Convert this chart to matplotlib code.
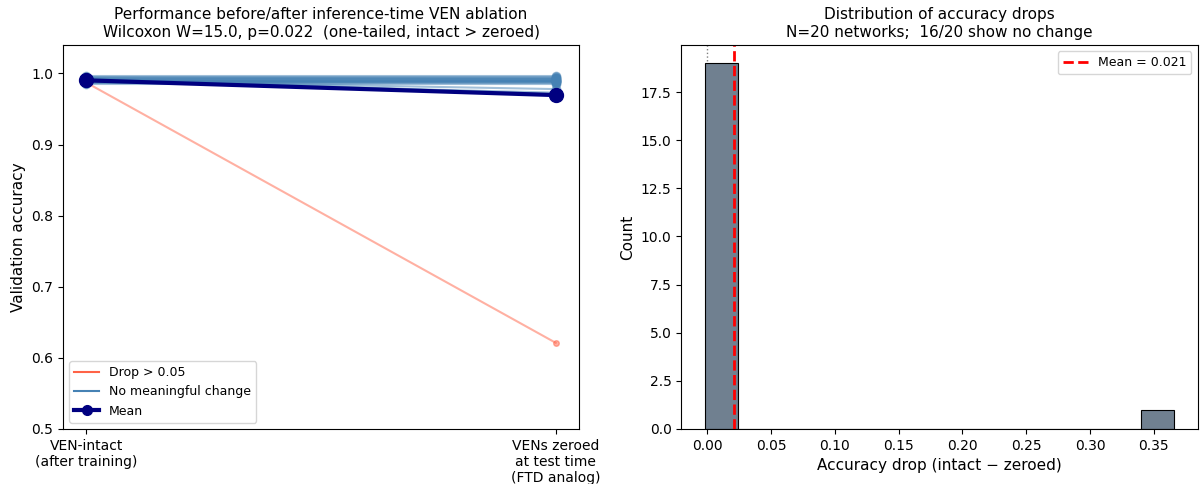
import matplotlib
matplotlib.use("Agg")
import matplotlib.pyplot as plt
from matplotlib.lines import Line2D
import numpy as np

# validation accuracy per network
intact = np.array([0.992, 0.988, 0.995, 0.990, 0.986, 0.993, 0.989, 0.991, 0.994, 0.987,
                   0.990, 0.996, 0.988, 0.992, 0.985, 0.991, 0.993, 0.989, 0.990, 0.987])
drops = np.array([0.0, 0.0, 0.0, 0.0, 0.0, 0.0, 0.0, 0.0, 0.001, -0.002,
                  0.0, 0.0, 0.0, 0.0, 0.0, 0.0, 0.022, 0.016, 0.012, 0.366])
zeroed = intact - drops

labels = ["VEN-intact\n(after training)", "VENs zeroed\nat test time\n(FTD analog)"]
wilcoxon_w = 15.0
p_value = 0.022
n_nochange = 16

fig, (ax1, ax2) = plt.subplots(1, 2, figsize=(12, 4.84), dpi=100)

# left: paired lines
for a, b, d in zip(intact, zeroed, drops):
    if d > 0.05:
        ax1.plot([0, 1], [a, b], color='tomato', alpha=0.5, lw=1.5, marker='o', markersize=4)
    else:
        ax1.plot([0, 1], [a, b], color='steelblue', alpha=0.5, lw=1.5, marker='o', markersize=6)

ax1.plot([0, 1], [intact.mean(), zeroed.mean()], color='navy', lw=3, marker='o', markersize=10, zorder=5)

handles = [Line2D([0], [0], color='tomato', lw=1.5),
           Line2D([0], [0], color='steelblue', lw=1.5),
           Line2D([0], [0], color='navy', lw=3, marker='o', markersize=7)]
ax1.legend(handles, ["Drop > 0.05", "No meaningful change", "Mean"], loc='lower left', fontsize=9)
ax1.set_xticks([0, 1])
ax1.set_xticklabels(labels)
ax1.set_xlim(-0.05, 1.05)
ax1.set_ylim(0.5, 1.04)
ax1.set_ylabel("Validation accuracy", fontsize=11)
ax1.set_title("Performance before/after inference-time VEN ablation\n"
              f"Wilcoxon W={wilcoxon_w}, p={p_value}  (one-tailed, intact > zeroed)", fontsize=11)

# right: histogram of drops
mean_drop = drops.mean()
ax2.hist(drops, bins=14, color='slategray', edgecolor='black', linewidth=0.8)
ax2.axvline(0, color='gray', ls=':', lw=1, zorder=0)
ax2.axvline(mean_drop, color='red', ls='--', lw=2, label=f"Mean = {mean_drop:.3f}")
ax2.legend(loc='upper right', fontsize=9)
ax2.set_xlabel("Accuracy drop (intact \u2212 zeroed)", fontsize=11)
ax2.set_ylabel("Count", fontsize=11)
ax2.set_title("Distribution of accuracy drops\n"
              f"N={len(drops)} networks;  {n_nochange}/{len(drops)} show no change", fontsize=11)

plt.subplots_adjust(left=0.0525, right=0.998, bottom=0.114, top=0.907, wspace=0.198)
plt.savefig("out.png")
